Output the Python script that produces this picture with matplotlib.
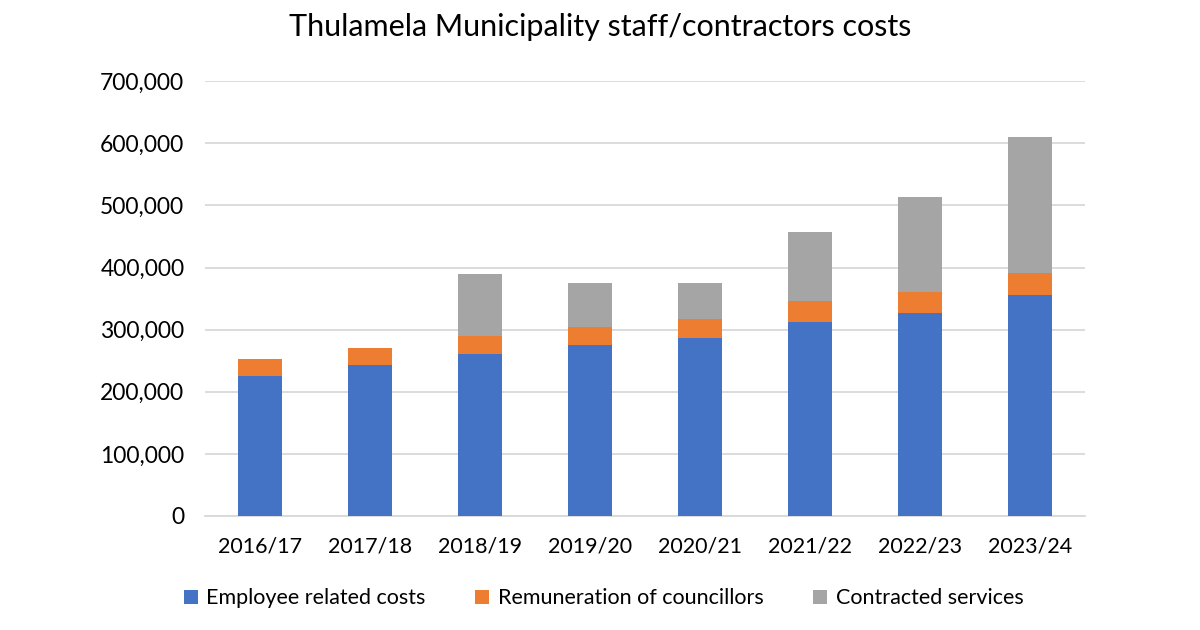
import matplotlib.pyplot as plt
import numpy as np

plt.rcParams['font.family'] = ['Lato', 'DejaVu Sans']

years = ['2016/17', '2017/18', '2018/19', '2019/20', '2020/21', '2021/22', '2022/23', '2023/24']
employee = [226000, 243000, 261000, 275000, 286500, 313000, 327000, 356000]
councillors = [26000, 28000, 29000, 30000, 30500, 33000, 33000, 36000]
contracted = [0, 0, 100000, 70000, 58000, 111000, 153000, 219000]

fig = plt.figure(figsize=(12, 6.3), dpi=100)
ax = fig.add_axes([0.171, 0.181, 0.733, 0.690])

x = np.arange(len(years))
w = 0.4
b1 = np.array(employee)
b2 = b1 + np.array(councillors)
ax.bar(x, employee, w, color='#4472c4', label='Employee related costs', zorder=3)
ax.bar(x, councillors, w, bottom=b1, color='#ed7d31', label='Remuneration of councillors', zorder=3)
ax.bar(x, contracted, w, bottom=b2, color='#a5a5a5', label='Contracted services', zorder=3)

ax.set_xlim(-0.5, len(years) - 0.5)
ax.set_ylim(0, 700000)
ax.set_yticks(np.arange(0, 700001, 100000))
ax.set_yticklabels([f'{v:,}' for v in range(0, 700001, 100000)])
ax.set_xticks(x)
ax.set_xticklabels(years)
ax.grid(axis='y', color='#d9d9d9', linewidth=1.3, zorder=0)
for s in ['top', 'right', 'left']:
    ax.spines[s].set_visible(False)
ax.spines['bottom'].set_color('#d9d9d9')
ax.spines['bottom'].set_linewidth(1.3)
ax.tick_params(axis='y', length=0, labelsize=16.5, colors='black', pad=15)
ax.tick_params(axis='x', length=0, labelsize=15.5, colors='black', pad=15)

fig.suptitle('Thulamela Municipality staff/contractors costs', fontsize=22, y=0.98)
fig.legend(loc='center', bbox_to_anchor=(0.503, 0.05), ncol=3, frameon=False, fontsize=15.5,
           handlelength=0.65, handleheight=0.65, handletextpad=0.4, columnspacing=2.3)

fig.savefig('out.png', dpi=100)
